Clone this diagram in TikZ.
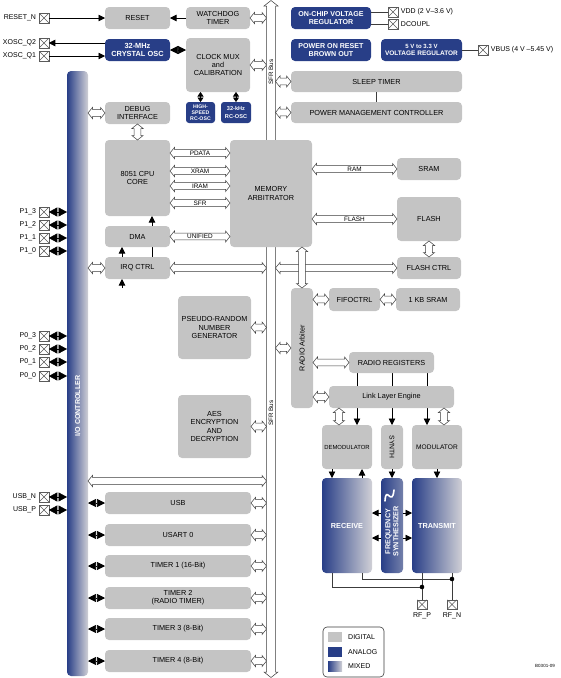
\documentclass[tikz,border=0pt]{standalone}
\usepackage{fontspec}
\setmainfont{Liberation Sans}
\usetikzlibrary{arrows.meta,calc}
\pgfdeclarelayer{bg}\pgfsetlayers{bg,main}
\definecolor{dg}{RGB}{196,196,196}
\definecolor{ab}{RGB}{40,62,135}
\definecolor{lg}{RGB}{208,208,214}
\definecolor{lc}{RGB}{60,60,60}
\definecolor{pg}{RGB}{90,90,90}
\def\ahL{4.5pt}\def\ahW{5.6pt}\def\abW{3.4pt}
\newcommand\blk[7]{\node[#1, minimum width={(#5-#3)*1pt}, minimum height={(#6-#4)*1pt}] (#2) at ({(#3+#5)/2},{(#4+#6)/2}) {#7};}
\newcommand\harr[3][]{\draw[hol] let \p1=#2, \p2=#3 in (\x1,\y1) -- (\x1+\ahL,\y1+\ahW) -- (\x1+\ahL,\y1+\abW) -- (\x2-\ahL,\y1+\abW) -- (\x2-\ahL,\y1+\ahW) -- (\x2,\y1) -- (\x2-\ahL,\y1-\ahW) -- (\x2-\ahL,\y1-\abW) -- (\x1+\ahL,\y1-\abW) -- (\x1+\ahL,\y1-\ahW) -- cycle node[albl] at ({0.5*\x1+0.5*\x2},\y1) {#1};}
\newcommand\varr[2]{\draw[hol] let \p1=#1, \p2=#2 in (\x1,\y1) -- (\x1+\ahW,\y1-\ahL) -- (\x1+\abW,\y1-\ahL) -- (\x1+\abW,\y2+\ahL) -- (\x1+\ahW,\y2+\ahL) -- (\x1,\y2) -- (\x1-\ahW,\y2+\ahL) -- (\x1-\abW,\y2+\ahL) -- (\x1-\abW,\y1-\ahL) -- (\x1-\ahW,\y1-\ahL) -- cycle;}
\newcommand\pinl[4]{\node[pinb] (#1) at (#2,#3) {}; \node[plbl, anchor=east] at ([xshift=-3pt]#1.west) {#4};}
\newcommand\pinr[4]{\node[pinb] (#1) at (#2,#3) {}; \node[plbl, anchor=west] at ([xshift=3pt]#1.east) {#4};}
\newcommand\pinb[4]{\node[pinb] (#1) at (#2,#3) {}; \node[plbl, anchor=north] at ([yshift=-3pt]#1.south) {#4};}
\tikzset{
 base/.style={inner sep=0pt, outer sep=0pt, align=center, rounded corners=4pt},
 dig/.style={base, fill=dg, font=\fontsize{7.3}{8.2}\selectfont},
 ana/.style={base, fill=ab, text=white, font=\bfseries\fontsize{7.1}{8.2}\selectfont},
 mix/.style={base, left color=ab, right color=lg, text=white, font=\bfseries\fontsize{7.3}{8.2}\selectfont},
 hol/.style={draw=lc, fill=white, line width=0.5pt},
 albl/.style={font=\fontsize{6.4}{7}\selectfont, inner sep=0pt},
 ln/.style={draw=lc, line width=0.6pt},
 fa/.style={draw=black, line width=0.6pt, -{Triangle[length=6.5pt,width=6.5pt]}},
 dia/.style={draw=black, line width=0.6pt, {Triangle[length=8pt,width=8pt]}-{Triangle[length=8pt,width=8pt]}},
 pdia/.style={draw=black, line width=0.6pt, {Triangle[length=8.5pt,width=9pt]}-{Triangle[length=8.5pt,width=9pt]}},
 sdia/.style={draw=black, line width=0.6pt, {Triangle[length=4.5pt,width=6pt]}-{Triangle[length=4.5pt,width=6pt]}},
 pinb/.style={draw=pg, fill=white, line width=0.5pt, minimum size=9.5pt, inner sep=0pt, outer sep=0pt,
   path picture={\draw[pg, line width=0.4pt] (path picture bounding box.south west) -- (path picture bounding box.north east) (path picture bounding box.north west) -- (path picture bounding box.south east);}},
 plbl/.style={font=\fontsize{7}{8}\selectfont, inner sep=0pt},
 sw/.style={minimum width=14pt, minimum height=10pt, inner sep=0pt},
}
\begin{document}
\begin{tikzpicture}[x=1pt,y=-1pt]
\useasboundingbox (0,0) rectangle (561,678);
% coordinates
\coordinate (sfrL) at (266.5,0); \coordinate (sfrR) at (275.5,0);
\coordinate (x122) at (122,0); \coordinate (x152) at (152,0);
\coordinate (xa) at (339,0); \coordinate (xb) at (444,0);
\coordinate (xc1) at (357,0); \coordinate (xc2) at (392,0); \coordinate (xc3) at (427,0);
\coordinate (x332) at (332,0); \coordinate (x362) at (362,0);
\coordinate (y513) at (0,513); \coordinate (y538) at (0,538);
\coordinate (busy) at (0,481);
\coordinate (dotP) at (422,587); \coordinate (dotN) at (452,579);
\coordinate (irqin) at (122,288);
% SFR bus
\draw[hol] (271,0.5) -- (278,6) -- (275.5,6) -- (275.5,672) -- (278,672) -- (271,677.5) -- (264,672) -- (266.5,672) -- (266.5,6) -- (264,6) -- cycle;
\node[rotate=90, font=\fontsize{6.3}{7}\selectfont, inner sep=0pt] (sfrt1) at (271,72) {SFR Bus};
\node[rotate=90, font=\fontsize{6.3}{7}\selectfont, inner sep=0pt] (sfrt2) at (271,413) {SFR Bus};
% blocks
\blk{dig}{reset}{105}{7}{170}{29}{RESET}
\blk{dig}{wdt}{186}{7}{250}{29}{WATCHDOG\\TIMER}
\blk{ana,font=\bfseries\fontsize{7.4}{8.6}\selectfont}{xosc}{105}{39}{170}{61}{32-MHz\\CRYSTAL OSC}
\blk{dig}{cmux}{186}{38}{250}{92}{CLOCK MUX\\and\\CALIBRATION}
\blk{ana,rounded corners=3pt,font=\bfseries\fontsize{5.2}{6}\selectfont}{hsrc}{186}{102}{215}{123}{HIGH-\\SPEED\\RC-OSC}
\blk{ana,rounded corners=3pt,font=\bfseries\fontsize{5.6}{7.5}\selectfont}{lsrc}{221}{102}{251}{123}{32-kHz\\RC-OSC}
\blk{ana}{vreg}{291}{7}{371}{29}{ON-CHIP VOLTAGE\\REGULATOR}
\blk{ana}{por}{291}{39}{371}{61}{POWER ON RESET\\BROWN OUT}
\blk{ana,font=\bfseries\fontsize{6.5}{7.8}\selectfont}{ureg}{381}{39}{462}{61}{{\fontsize{6}{7}\selectfont 5 V to 3.3 V}\\VOLTAGE REGULATOR}
\blk{dig}{sleep}{291}{71}{462}{92}{SLEEP TIMER}
\blk{dig}{pmc}{291}{102}{462}{123}{POWER MANAGEMENT CONTROLLER}
\blk{mix}{io}{67}{71}{88}{676}{}
\node[rotate=90, text=white, font=\bfseries\fontsize{7.1}{8}\selectfont, inner sep=0pt] (iot) at (77.5,406) {I/O CONTROLLER};
\blk{dig}{dbg}{105}{102}{170}{124}{DEBUG\\INTERFACE}
\blk{dig}{cpu}{105}{140}{170}{216}{8051 CPU\\CORE}
\blk{dig}{irq}{105}{257}{170}{279}{IRQ CTRL}
\blk{dig}{dma}{105}{226}{170}{247}{DMA}
\blk{dig}{marb}{230}{140}{312}{247}{MEMORY\\ARBITRATOR}
\blk{dig}{sram}{397}{158}{461}{180}{SRAM}
\blk{dig}{flash}{397}{197}{461}{241}{FLASH}
\blk{dig}{fctrl}{397}{257}{461}{279}{FLASH CTRL}
\blk{dig}{rarb}{291}{288}{313}{408}{}
\node[rotate=90, font=\fontsize{7.2}{8}\selectfont, inner sep=0pt] (rarbt) at (rarb.center) {RADIO Arbiter};
\blk{dig}{fifo}{329}{288}{380}{311}{FIFOCTRL}
\blk{dig}{ksram}{396}{288}{460}{311}{1 KB SRAM}
\blk{dig}{prng}{178}{296}{251}{359}{PSEUDO-RANDOM\\NUMBER\\GENERATOR}
\blk{dig}{aes}{178}{395}{251}{458}{AES\\ENCRYPTION\\AND\\DECRYPTION}
\blk{dig}{rreg}{349}{352}{434}{373}{RADIO REGISTERS}
\blk{dig}{lle}{329}{386}{454}{408}{Link Layer Engine}
\blk{dig,font=\fontsize{5.9}{7}\selectfont}{dem}{322}{425}{372}{469}{DEMODULATOR}
\blk{dig}{syn}{381}{425}{403}{469}{}
\node[rotate=-90, font=\fontsize{6.8}{8}\selectfont, inner sep=0pt] (synt) at (syn.center) {SYNTH};
\blk{dig,font=\fontsize{6.6}{7}\selectfont}{mod}{412}{425}{462}{469}{MODULATOR}
\blk{mix}{rx}{322}{478}{372}{573}{RECEIVE}
\blk{mix,left color=ab,right color=ab!55!lg}{fs}{381}{478}{403}{573}{}
\node[rotate=90, text=white, align=center, font=\bfseries\fontsize{7.2}{8}\selectfont, inner sep=0pt] (fst) at ([yshift=-6pt]fs.center) {FREQUENCY\\SYNTHESIZER};
\draw[white, line width=1.6pt, line cap=round] (385,501) .. controls (386,484) and (392,508) .. (394,490);
\blk{mix}{tx}{412}{478}{462}{573}{TRANSMIT}
\blk{dig}{usb}{105}{492}{251}{514}{USB}
\blk{dig}{usart}{105}{524}{251}{546}{USART 0}
\blk{dig}{tone}{105}{555}{251}{577}{TIMER 1 (16-Bit)}
\blk{dig}{ttwo}{105}{587}{251}{609}{TIMER 2\\(RADIO TIMER)}
\blk{dig}{tthree}{105}{618}{251}{640}{TIMER 3 (8-Bit)}
\blk{dig}{tfour}{105}{650}{251}{672}{TIMER 4 (8-Bit)}
% pins
\pinl{prst}{44}{18}{RESET\_N}
\pinl{pq2}{44}{43}{XOSC\_Q2}
\pinl{pq1}{44}{56}{XOSC\_Q1}
\pinl{pa}{44}{212}{P1\_3}
\pinl{pb}{44}{225}{P1\_2}
\pinl{pc}{44}{238}{P1\_1}
\pinl{pd}{44}{251}{P1\_0}
\pinl{pe}{44}{336}{P0\_3}
\pinl{pf}{44}{349}{P0\_2}
\pinl{pg}{44}{362}{P0\_1}
\pinl{ph}{44}{376}{P0\_0}
\pinl{pun}{44}{497}{USB\_N}
\pinl{pup}{44}{510}{USB\_P}
\pinr{pvdd}{393}{12}{VDD (2 V–3.6 V)}
\pinr{pdc}{393}{24}{DCOUPL}
\pinr{pvbus}{483}{50}{VBUS (4 V –5.45 V)}
\pinb{rfp}{422}{604.5}{RF\_P}
\pinb{rfn}{452}{604.5}{RF\_N}
% hollow arrows
\harr{(wdt.east)}{(sfrL)}
\harr{(cmux.east)}{(sfrL)}
\harr{(sfrR|-sleep.west)}{(sleep.west)}
\harr{(sfrR|-pmc.west)}{(pmc.west)}
\harr{(io.east|-dbg.west)}{(dbg.west)}
\varr{(dbg.south)}{(cpu.north)}
\harr[PDATA]{([yshift=-13pt]cpu.north east)}{(marb.west)}
\harr[XRAM]{([yshift=-31pt]cpu.north east)}{(marb.west)}
\harr[IRAM]{([yshift=-46pt]cpu.north east)}{(marb.west)}
\harr[SFR]{([yshift=-63pt]cpu.north east)}{(marb.west)}
\harr[UNIFIED]{(dma.east)}{(marb.west)}
\harr[RAM]{(marb.east|-sram.west)}{(sram.west)}
\harr[FLASH]{(marb.east|-flash.west)}{(flash.west)}
\varr{(flash.south)}{(fctrl.north)}
\harr{(io.east|-irq.west)}{(irq.west)}
\harr{(irq.east)}{(sfrL)}
\harr{(sfrR|-fctrl.west)}{(fctrl.west)}
\varr{(marb.south-|rarb.north)}{(rarb.north)}
\harr{(rarb.east|-fifo.west)}{(fifo.west)}
\harr{(fifo.east)}{(ksram.west)}
\harr{(prng.east)}{(sfrL)}
\harr{(sfrR|-rarb.west)}{(rarb.west)}
\harr{(rarb.east|-rreg.west)}{(rreg.west)}
\harr{(rarb.east|-lle.west)}{(lle.west)}
\harr{(aes.east)}{(sfrL)}
\harr{(io.east|-busy)}{(sfrL)}
\harr{(usb.east)}{(sfrL)}
\harr{(usart.east)}{(sfrL)}
\harr{(tone.east)}{(sfrL)}
\harr{(ttwo.east)}{(sfrL)}
\harr{(tthree.east)}{(sfrL)}
\harr{(tfour.east)}{(sfrL)}
\varr{(lle.south-|xa)}{(dem.north)}
\varr{(lle.south-|xb)}{(mod.north)}
% filled arrows and lines
\draw[fa] (prst.east) -- (reset.west);
\draw[fa] (wdt.west) -- (reset.east);
\draw[fa] (xosc.west|-pq2) -- (pq2.east);
\draw[fa] (pq1.east) -- (xosc.west|-pq1);
\draw[dia] (xosc.east) -- (cmux.west|-xosc.east);
\draw[sdia] (cmux.south-|hsrc.north) -- (hsrc.north);
\draw[sdia] (cmux.south-|lsrc.north) -- (lsrc.north);
\draw[ln] (vreg.east|-pvdd) -- (pvdd.west);
\draw[ln] (vreg.east|-pdc) -- (pdc.west);
\draw[ln] (ureg.east) -- (pvbus.west);
\draw[ln] (sleep.south) -- (pmc.north);
\foreach \p in {pa,pb,pc,pd,pe,pf,pg,ph,pun,pup} {\draw[pdia] (\p.east) -- (io.west|-\p.east);}
\foreach \b in {usb,usart,tone,ttwo,tthree,tfour} {\draw[dia] (io.east|-\b.west) -- (\b.west);}
\draw[fa] (irq.north-|x122) -- (dma.south-|x122);
\draw[fa] (irqin) -- (irq.south-|x122);
\begin{pgfonlayer}{bg}
\draw[fa] (irq.north-|x152) -- (cpu.south-|x152);
\draw[fa] (rreg.south-|xc1) -- (dem.north-|xc1);
\draw[fa] (rreg.south-|xc2) -- (syn.north);
\draw[fa] (rreg.south-|xc3) -- (mod.north-|xc3);
\end{pgfonlayer}
\draw[fa] (dem.south-|x332) -- (rx.north-|x332);
\draw[fa] (rx.north-|x362) -- (dem.south-|x362);
\draw[fa] (syn.south) -- (fs.north);
\draw[fa] (mod.south) -- (tx.north);
\draw[fa] (fs.west|-y513) -- (rx.east|-y513);
\draw[fa] (fs.west|-y538) -- (rx.east|-y538);
\draw[fa] (fs.east|-y513) -- (tx.west|-y513);
\draw[fa] (fs.east|-y538) -- (tx.west|-y538);
\draw[ln] (rx.south-|x332) |- (dotP);
\draw[ln] (tx.south-|dotP) -- (rfp.north);
\draw[ln] (rx.south-|x362) |- (dotN);
\draw[ln] (tx.south-|dotN) -- (rfn.north);
\fill[black] (dotP) circle (2.3pt);
\fill[black] (dotN) circle (2.3pt);
% legend
\node[draw=lc, rounded corners=4pt, line width=0.6pt, minimum width=61pt, minimum height=50pt, inner sep=0pt] (leg) at (353.5,652) {};
\node[sw, fill=dg] (s1) at (335,637) {};
\node[sw, fill=ab] (s2) at (335,652) {};
\node[sw, left color=ab, right color=lg] (s3) at (335,666.5) {};
\node[plbl, anchor=west] (l1) at (348,637) {DIGITAL};
\node[plbl, anchor=west] (l2) at (348,652) {ANALOG};
\node[plbl, anchor=west] (l3) at (348,666.5) {MIXED};
\node[font=\fontsize{4.5}{5}\selectfont, inner sep=0pt] (code) at (545,666) {B0301-09};
\end{tikzpicture}
\end{document}
